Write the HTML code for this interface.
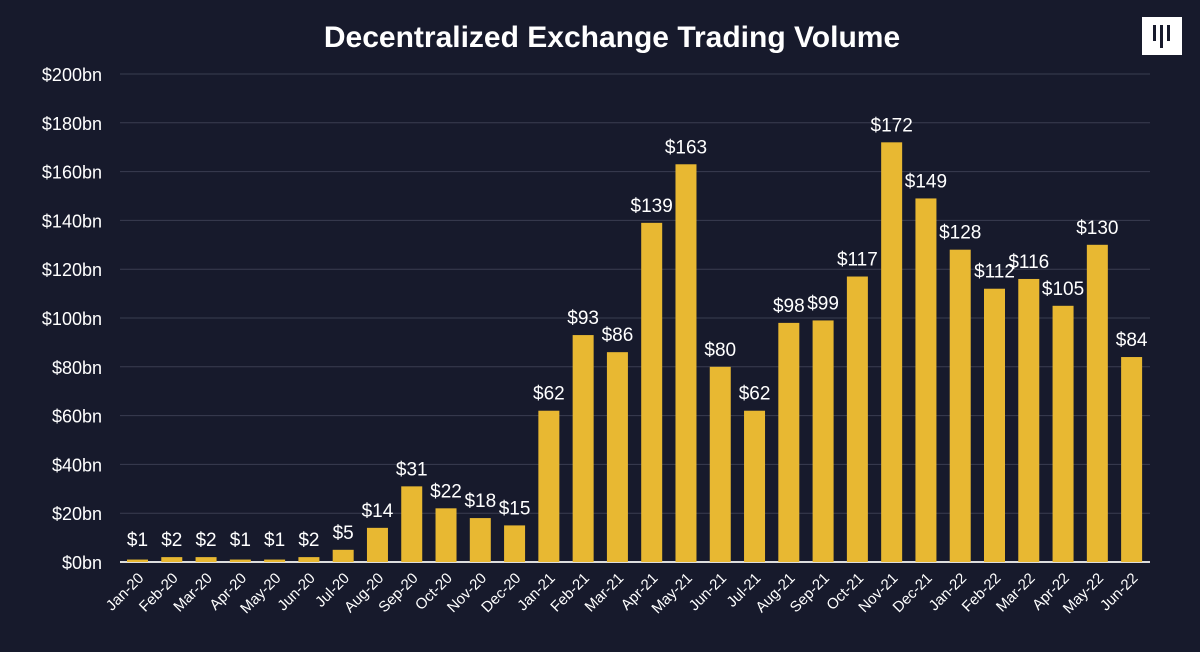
<!DOCTYPE html>
<html><head><meta charset="utf-8"><style>
body{margin:0;background:#171a2c;width:1200px;height:647px;overflow:hidden;font-family:"Liberation Sans",sans-serif}
svg text{font-family:"Liberation Sans",sans-serif}
</style></head><body>
<svg id="c" width="1200" height="647">
<text x="612" y="47" text-anchor="middle" fill="#fff" font-size="30" font-weight="bold">Decentralized Exchange Trading Volume</text>
<g>
<rect x="1142" y="17" width="40" height="38" fill="#fff"/>
<rect x="1153" y="25" width="3" height="16" fill="#171a2c"/>
<rect x="1160" y="25" width="3" height="23" fill="#171a2c"/>
<rect x="1167" y="25" width="3" height="16" fill="#171a2c"/>
</g>
<g id="grid"></g><g id="bars"></g>
</svg>
<script>
const categories=["Jan-20","Feb-20","Mar-20","Apr-20","May-20","Jun-20","Jul-20","Aug-20","Sep-20","Oct-20","Nov-20","Dec-20","Jan-21","Feb-21","Mar-21","Apr-21","May-21","Jun-21","Jul-21","Aug-21","Sep-21","Oct-21","Nov-21","Dec-21","Jan-22","Feb-22","Mar-22","Apr-22","May-22","Jun-22"];
const values=[1,2,2,1,1,2,5,14,31,22,18,15,62,93,86,139,163,80,62,98,99,117,172,149,128,112,116,105,130,84];
const tickValues=[0,20,40,60,80,100,120,140,160,180,200];
const tickLabels=["$0bn","$20bn","$40bn","$60bn","$80bn","$100bn","$120bn","$140bn","$160bn","$180bn","$200bn"];
const NS="http://www.w3.org/2000/svg";
const y=v=>562-v*2.44;
const x=i=>137.5+i*34.28;
function mk(t,a,p){const e=document.createElementNS(NS,t);for(const k in a)e.setAttribute(k,a[k]);p.appendChild(e);return e;}
const g=document.getElementById('grid'),b=document.getElementById('bars');
tickValues.forEach((v,i)=>{
 const l=mk('line',{x1:120,x2:1150,y1:y(v),y2:y(v),stroke:v===0?'#ddd':'#3a3d50','stroke-width':v===0?2:1},g);
 
 
 const t=mk('text',{x:102,y:y(v)+7,'text-anchor':'end',fill:'#fff','font-size':18},g);
 t.textContent=tickLabels[i];
 
 
});
values.forEach((v,i)=>{
 const r=mk('rect',{x:x(i)-10.5,y:y(v),width:21,height:562-y(v),fill:'#e8b832'},b);
 
 
 const t=mk('text',{x:x(i),y:Math.min(y(v),y(2))-11,'text-anchor':'middle',fill:'#fff','font-size':19},b);
 t.textContent='$'+v;
 
 
 const c=mk('text',{x:x(i)+7,y:579,'text-anchor':'end',fill:'#fff','font-size':15,transform:`rotate(-45 ${x(i)+7} 579)`},b);
 c.textContent=categories[i];
 
 
});
</script>
</body></html>
